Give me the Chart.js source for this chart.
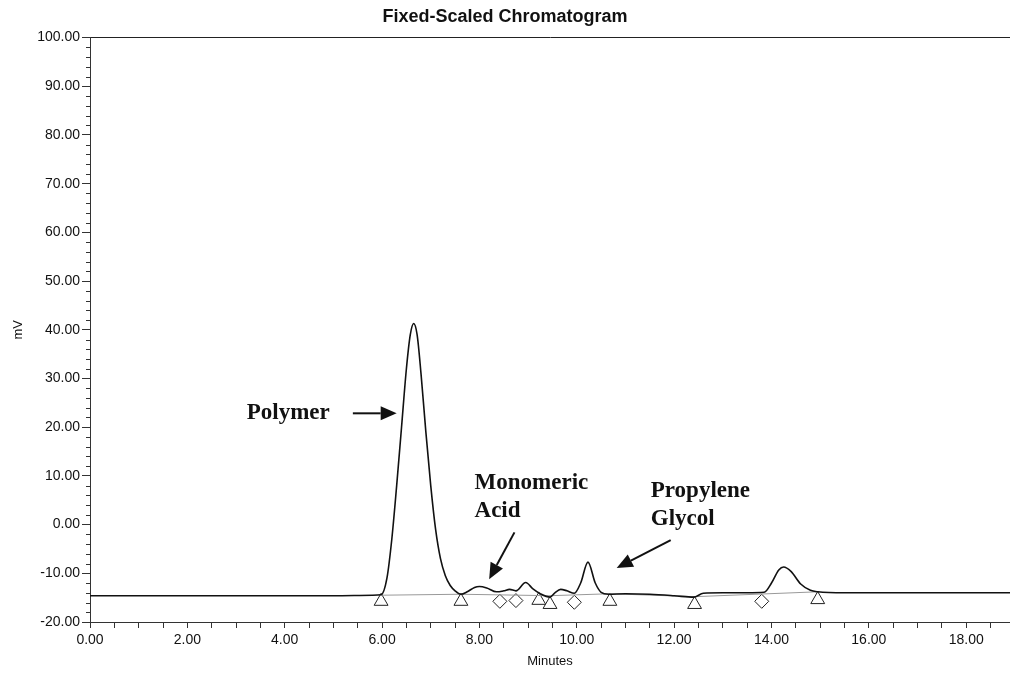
<!DOCTYPE html>
<html>
<head>
<meta charset="utf-8">
<title>Fixed-Scaled Chromatogram</title>
<script src="https://cdn.jsdelivr.net/npm/chart.js@4"></script>
<style>
  html, body { margin: 0; padding: 0; background: #fff; }
  #wrap { width: 1010px; height: 673px; }
</style>
</head>
<body>
<div id="wrap"><canvas id="chrom"></canvas></div>
<script>
// detector trace (minutes, mV)
const times = [0.0, 2.0, 4.0, 5.0, 5.8, 5.98, 6.1, 6.2, 6.3, 6.4, 6.5, 6.58, 6.65, 6.72, 6.8, 6.9,
  7.0, 7.1, 7.2, 7.3, 7.4, 7.5, 7.62, 7.75, 7.9, 8.0, 8.15, 8.35, 8.5, 8.62, 8.75, 8.95,
  9.1, 9.25, 9.45, 9.55, 9.67, 9.8, 9.95, 10.08, 10.23, 10.38, 10.5, 10.65, 11.0, 11.5,
  12.0, 12.4, 12.6, 13.0, 13.5, 13.85, 14.0, 14.15, 14.25, 14.4, 14.6, 14.8, 14.95, 15.5,
  16.0, 18.0, 18.9];
const signal = [-14.6, -14.6, -14.6, -14.6, -14.5, -14.4, -11, -3, 8, 20, 32, 39, 41.3, 39, 31, 19,
  8, -1, -7, -10.5, -12.5, -13.6, -14.3, -13.8, -12.9, -12.7, -13.0, -13.8, -13.6, -13.3, -13.6, -11.9,
  -13.2, -14.2, -14.9, -14.0, -13.3, -13.6, -14.1, -12, -7.7, -12, -13.9, -14.3, -14.2, -14.3,
  -14.6, -14.9, -14.1, -14.0, -14.0, -13.9, -12, -9.3, -8.7, -9.6, -12.2, -13.5, -13.8, -14.0,
  -14.0, -14.0, -14.0];

// drawn baseline under the peaks
const baseTimes = [5.98, 7.62, 9.45, 10.68, 12.42, 14.95];
const baseLevels = [-14.5, -14.3, -14.6, -14.2, -14.8, -13.8];

// peak start/end markers
const triangleTimes = [5.98, 7.62, 9.22, 9.45, 10.68, 12.42, 14.95];
const triangleLevels = [-15.75, -15.75, -15.55, -16.4, -15.75, -16.4, -15.4];
const diamondTimes = [8.42, 8.75, 9.95, 13.8];
const diamondLevels = [-15.75, -15.6, -15.95, -15.75];

// axis ranges
const xRange = [0, 18.9];
const yRange = [-20, 100];

const pts = (xs, ys) => xs.map((x, i) => ({ x: x, y: ys[i] }));

// callouts in data units (minutes, mV)
const callouts = [
  { lines: ['Polymer'], at: [3.22, 22.85], arrow: [[5.40, 22.85], [6.30, 22.85]] },
  { lines: ['Monomeric', 'Acid'], at: [7.9, 8.5], arrow: [[8.72, -1.6], [8.2, -11.2]] },
  { lines: ['Propylene', 'Glycol'], at: [11.52, 6.85], arrow: [[11.93, -3.2], [10.82, -8.9]] }
];

const calloutPlugin = {
  id: 'callouts',
  afterDatasetsDraw(chart) {
    const { ctx, scales: { x, y } } = chart;
    ctx.save();
    ctx.fillStyle = '#111';
    ctx.strokeStyle = '#111';
    ctx.font = 'bold 23px "Liberation Serif", "Times New Roman", serif';
    ctx.textBaseline = 'middle';
    ctx.textAlign = 'left';
    callouts.forEach(c => {
      const tx = x.getPixelForValue(c.at[0]);
      const ty = y.getPixelForValue(c.at[1]);
      c.lines.forEach((t, i) => ctx.fillText(t, tx, ty + i * 28));
      const x0 = x.getPixelForValue(c.arrow[0][0]), y0 = y.getPixelForValue(c.arrow[0][1]);
      const x1 = x.getPixelForValue(c.arrow[1][0]), y1 = y.getPixelForValue(c.arrow[1][1]);
      const ang = Math.atan2(y1 - y0, x1 - x0);
      const len = 16, half = 7;
      const bx = x1 - len * Math.cos(ang), by = y1 - len * Math.sin(ang);
      ctx.lineWidth = 2;
      ctx.beginPath();
      ctx.moveTo(x0, y0);
      ctx.lineTo(bx, by);
      ctx.stroke();
      ctx.beginPath();
      ctx.moveTo(x1, y1);
      ctx.lineTo(bx + half * Math.sin(ang), by - half * Math.cos(ang));
      ctx.lineTo(bx - half * Math.sin(ang), by + half * Math.cos(ang));
      ctx.closePath();
      ctx.fill();
    });
    ctx.restore();
  }
};

// short minor ticks every 2 mV on the y axis
const minorTicks = {
  id: 'minorTicks',
  afterDraw(chart) {
    const { ctx, scales: { y } } = chart;
    ctx.save();
    ctx.strokeStyle = '#333';
    ctx.lineWidth = 1;
    ctx.beginPath();
    for (let v = yRange[0]; v <= yRange[1]; v += 2) {
      if (v % 10 === 0) continue;
      const py = Math.round(y.getPixelForValue(v)) + 0.5;
      ctx.moveTo(y.right - 4, py);
      ctx.lineTo(y.right, py);
    }
    ctx.stroke();
    ctx.restore();
  }
};

new Chart(document.getElementById('chrom'), {
  type: 'scatter',
  data: {
    datasets: [
      {
        label: 'Signal',
        data: pts(times, signal),
        showLine: true,
        borderColor: '#111',
        borderWidth: 1.6,
        pointRadius: 0,
        cubicInterpolationMode: 'monotone'
      },
      {
        label: 'Baseline',
        data: pts(baseTimes, baseLevels),
        showLine: true,
        borderColor: '#999',
        borderWidth: 1,
        pointRadius: 0
      },
      {
        label: 'Peak bounds',
        data: pts(triangleTimes, triangleLevels),
        pointStyle: 'triangle',
        pointRadius: 8,
        backgroundColor: '#fff',
        borderColor: '#222',
        borderWidth: 1
      },
      {
        label: 'Drop lines',
        data: pts(diamondTimes, diamondLevels),
        pointStyle: 'rectRot',
        pointRadius: 7,
        backgroundColor: '#fff',
        borderColor: '#222',
        borderWidth: 1
      }
    ]
  },
  options: {
    responsive: true,
    maintainAspectRatio: false,
    animation: false,
    layout: { padding: 0, autoPadding: false },
    plugins: {
      legend: { display: false },
      tooltip: { enabled: false },
      title: {
        display: true,
        text: 'Fixed-Scaled Chromatogram',
        color: '#111',
        font: { family: '"Liberation Sans", Arial, sans-serif', size: 18, weight: 'bold', lineHeight: 1.2 },
        padding: { top: 6, bottom: 10 }
      }
    },
    scales: {
      x: {
        type: 'linear',
        min: xRange[0],
        max: xRange[1],
        afterFit: s => { s.height = 51; s.paddingRight = 0; s.paddingLeft = 0; },
        border: { color: '#333', width: 1 },
        grid: { drawOnChartArea: false, tickLength: 6, tickColor: '#333' },
        ticks: {
          stepSize: 0.5,
          includeBounds: false,
          autoSkip: false,
          maxRotation: 0,
          padding: 4,
          color: '#111',
          font: { family: '"Liberation Sans", Arial, sans-serif', size: 14 },
          callback: v => (v % 2 === 0 ? v.toFixed(2) : '')
        },
        title: {
          display: true,
          text: 'Minutes',
          color: '#111',
          padding: { top: 0, bottom: 4 },
          font: { family: '"Liberation Sans", Arial, sans-serif', size: 13 }
        }
      },
      y: {
        min: yRange[0],
        max: yRange[1],
        afterFit: s => { s.width = 90; },
        border: { color: '#333', width: 1 },
        grid: {
          tickLength: 8,
          tickColor: '#333',
          color: c => (c.tick && c.tick.value === yRange[1] ? '#222' : 'transparent')
        },
        ticks: {
          stepSize: 10,
          padding: 2,
          color: '#111',
          font: { family: '"Liberation Sans", Arial, sans-serif', size: 14 },
          callback: v => (Math.abs(v) < 1e-9 ? 0 : v).toFixed(2)
        },
        title: {
          display: true,
          text: 'mV',
          color: '#111',
          padding: { top: 11, bottom: 0 },
          font: { family: '"Liberation Sans", Arial, sans-serif', size: 13 }
        }
      }
    }
  },
  plugins: [calloutPlugin, minorTicks]
});
</script>
</body>
</html>
